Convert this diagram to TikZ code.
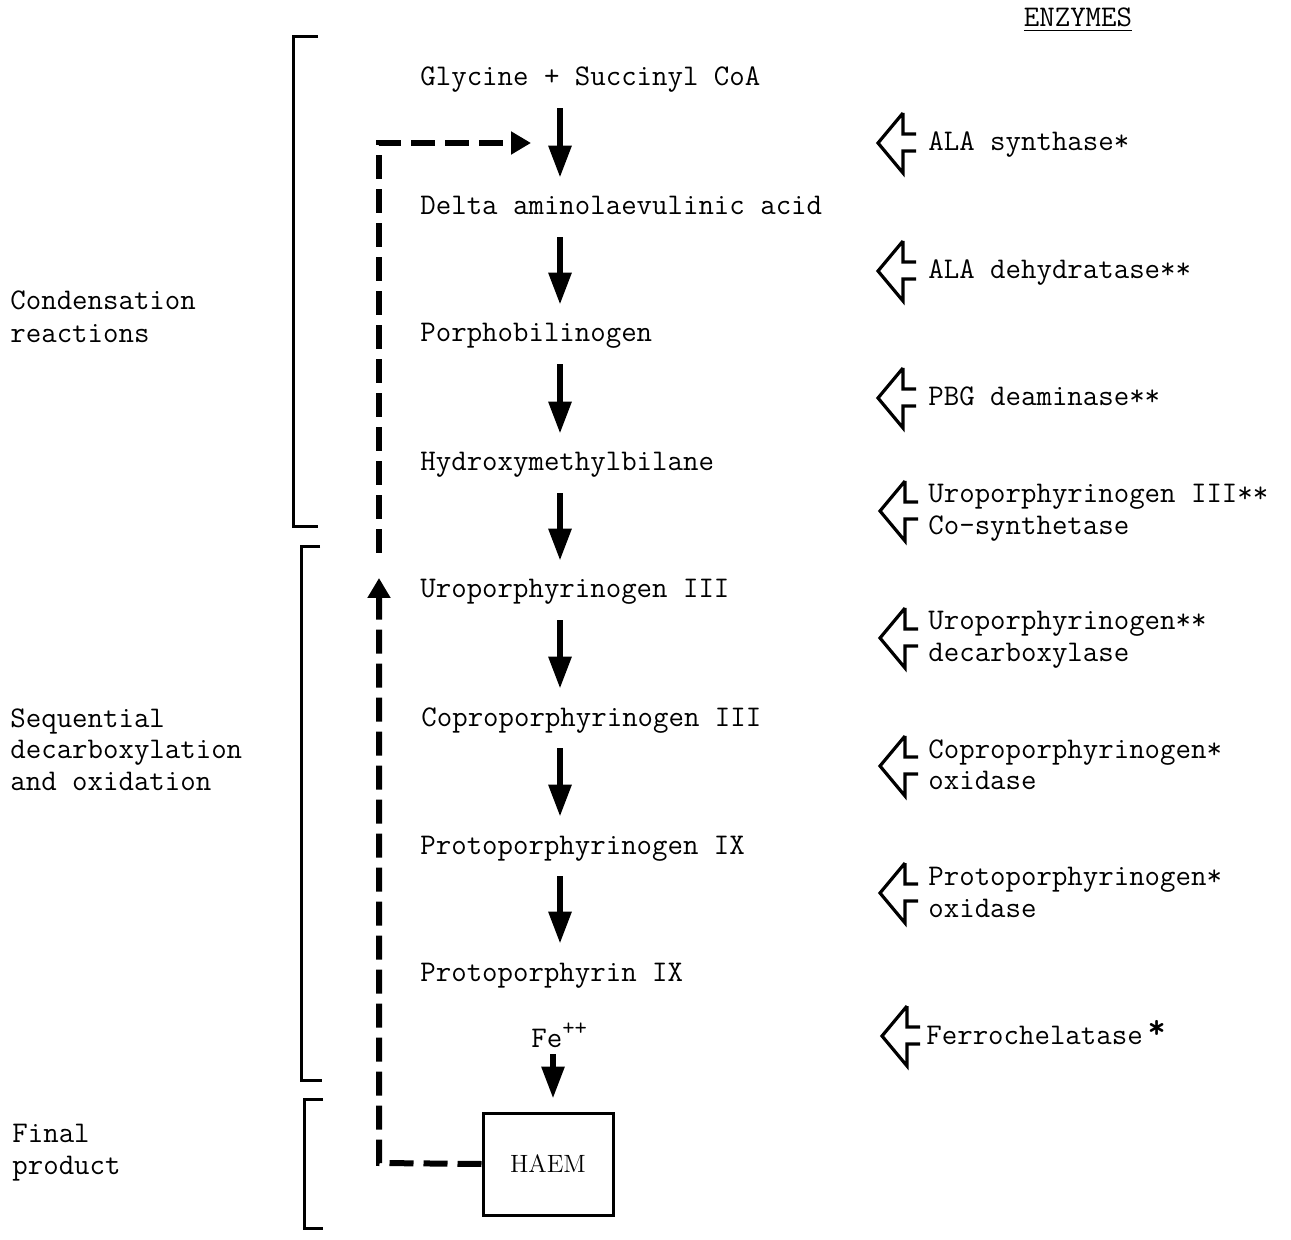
\documentclass[tikz,border=0pt]{standalone}
\usetikzlibrary{arrows.meta}
\begin{document}
\begin{tikzpicture}[x=0.5pt,y=-0.5pt,
  every node/.style={inner sep=0pt, font=\ttfamily\fontsize{15}{16}\selectfont},
  txt/.style={anchor=base west, text height=11pt, text depth=3.5pt},
  flow/.style={line width=3pt, -{Triangle[length=16pt,width=11pt]}, shorten <=7.5pt, shorten >=7.5pt},
  bracket/.style={line width=1.5pt},
  fb/.style={line width=3pt, dash pattern=on 12pt off 5pt},
  fbtip/.style={-{Triangle[length=10pt,width=11pt]}},
  enz/.pic={\draw[line width=1.6pt, line join=miter] (25,-30) -- (0,0) -- (25,30) -- (25,8) -- (38,8) (25,-30) -- (25,-9) -- (38,-9);}
]
\useasboundingbox (0,0) rectangle (1291,1240);
\coordinate (axis) at (560,0);
\coordinate (axisfe) at (553,0);

% heading
\node[anchor=base] (enzh) at (1078,27) {\underline{ENZYMES}};

% compounds
\node[txt] (c1) at (420,86)  {Glycine + Succinyl CoA};
\node[txt] (c2) at (420,215) {Delta aminolaevulinic acid};
\node[txt] (c3) at (420,342) {Porphobilinogen};
\node[txt] (c4) at (420,471) {Hydroxymethylbilane};
\node[txt] (c5) at (420,598) {Uroporphyrinogen III};
\node[txt] (c6) at (421,726) {Coproporphyrinogen III};
\node[txt] (c7) at (420,854) {Protoporphyrinogen IX};
\node[txt] (c8) at (420,981) {Protoporphyrin IX};
\node[txt] (fe) at (531,1047) {Fe\raisebox{6pt}{\fontsize{12}{12}\selectfont ++}};
\node[draw, line width=1.5pt, minimum width=65pt, minimum height=51pt,
      font=\rmfamily\fontsize{12.5}{14}\selectfont] (haem) at (548,1164) {HAEM};

% main flow arrows
\draw[flow] (c1.south -| axis) -- (c2.north -| axis);
\draw[flow] (c2.south -| axis) -- (c3.north -| axis);
\draw[flow] (c3.south -| axis) -- (c4.north -| axis);
\draw[flow] (c4.south -| axis) -- (c5.north -| axis);
\draw[flow] (c5.south -| axis) -- (c6.north -| axis);
\draw[flow] (c6.south -| axis) -- (c7.north -| axis);
\draw[flow] (c7.south -| axis) -- (c8.north -| axis);
\draw[flow, shorten <=0pt, shorten >=6.5pt] (fe.south -| axisfe) -- (haem.north -| axisfe);

% feedback (dashed)
\coordinate (fb1) at (379,1163);
\coordinate (fb2) at (379,578);
\coordinate (fb3) at (379,553);
\coordinate (fb4) at (379,143);
\coordinate (fb5) at (531,143);
\draw[fb, fbtip] (haem.west) -- (fb1) -- (fb2);
\draw[fb, fbtip] (fb3) -- (fb4) -- (fb5);

% enzymes
\pic at (878,143) {enz};
\node[txt] (e1) at (928,151) {ALA synthase*};
\pic at (878,271) {enz};
\node[txt] (e2) at (928,279) {ALA dehydratase**};
\pic at (878,398) {enz};
\node[txt] (e3) at (928,406) {PBG deaminase**};
\pic at (880,511) {enz};
\node[txt] (e4a) at (928,503) {Uroporphyrinogen III**};
\node[txt] (e4b) at (928,535) {Co-synthetase};
\pic at (880,638) {enz};
\node[txt] (e5a) at (928,630) {Uroporphyrinogen**};
\node[txt] (e5b) at (928,662) {decarboxylase};
\pic at (880,766) {enz};
\node[txt] (e6a) at (928,758) {Coproporphyrinogen*};
\node[txt] (e6b) at (928,790) {oxidase};
\pic at (880,893) {enz};
\node[txt] (e7a) at (928,885) {Protoporphyrinogen*};
\node[txt] (e7b) at (928,917) {oxidase};
\pic at (882,1036) {enz};
\node[txt] (e8) at (926,1044) {Ferrochelatase\,\raisebox{3pt}{\bfseries\LARGE*}};

% brackets
\draw[bracket] (318,37) -- (293,37) -- (293,527) -- (318,527);
\draw[bracket] (320,547) -- (301,547) -- (301,1080) -- (322,1080);
\draw[bracket] (323,1099) -- (304,1099) -- (304,1228) -- (323,1228);

% stage labels
\node[txt] (l1a) at (10,310) {Condensation};
\node[txt] (l1b) at (10,343) {reactions};
\node[txt] (l2a) at (10,727) {Sequential};
\node[txt] (l2b) at (10,759) {decarboxylation};
\node[txt] (l2c) at (10,791) {and oxidation};
\node[txt] (l3a) at (12,1142) {Final};
\node[txt] (l3b) at (12,1174) {product};
\end{tikzpicture}
\end{document}
